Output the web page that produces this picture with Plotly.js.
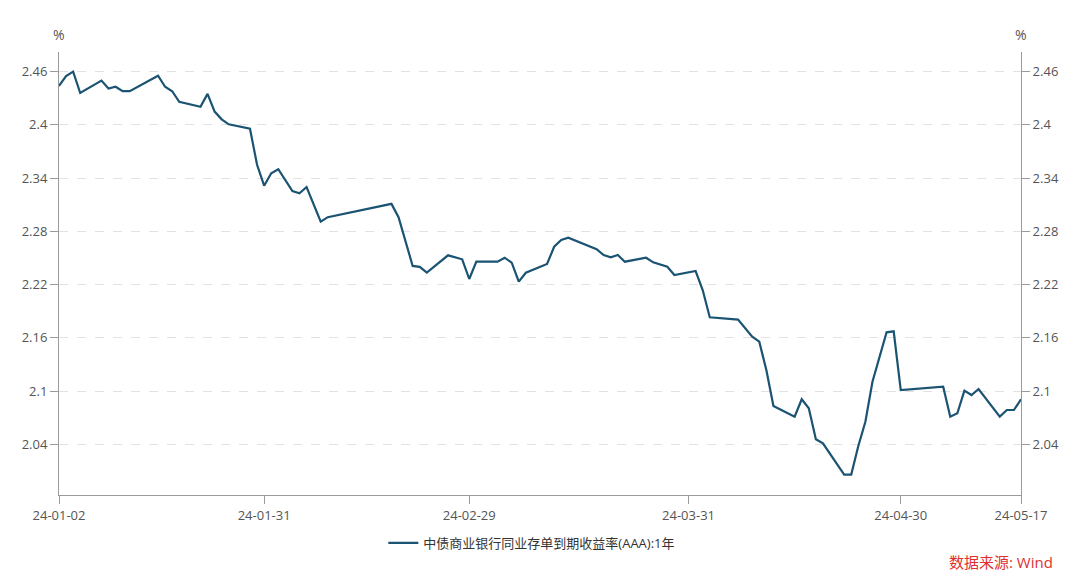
<!DOCTYPE html>
<html>
<head>
<meta charset="utf-8">
<script src="https://cdn.plot.ly/plotly-3.0.1.min.js"></script>
<style>html,body{margin:0;padding:0;background:#fff;}#chart{width:1080px;height:579px;}</style>
</head>
<body>
<div id="chart"></div>
<script>
const dates = [
"2024-01-02","2024-01-03","2024-01-04","2024-01-05","2024-01-08","2024-01-09","2024-01-10","2024-01-11","2024-01-12",
"2024-01-16","2024-01-17","2024-01-18","2024-01-19","2024-01-22","2024-01-23","2024-01-24","2024-01-25","2024-01-26",
"2024-01-29","2024-01-30","2024-01-31","2024-02-01","2024-02-02","2024-02-04","2024-02-05","2024-02-06","2024-02-08",
"2024-02-09","2024-02-18","2024-02-19","2024-02-21","2024-02-22","2024-02-23","2024-02-26","2024-02-28","2024-02-29",
"2024-03-01","2024-03-04","2024-03-05","2024-03-06","2024-03-07","2024-03-08","2024-03-11","2024-03-12","2024-03-13",
"2024-03-14","2024-03-18","2024-03-19","2024-03-20","2024-03-21","2024-03-22","2024-03-25","2024-03-26","2024-03-28",
"2024-03-29","2024-04-01","2024-04-02","2024-04-03","2024-04-07","2024-04-09","2024-04-10","2024-04-11","2024-04-12",
"2024-04-15","2024-04-16","2024-04-17","2024-04-18","2024-04-19","2024-04-22","2024-04-23","2024-04-24","2024-04-25",
"2024-04-26","2024-04-28","2024-04-29","2024-04-30","2024-05-06","2024-05-07","2024-05-08","2024-05-09","2024-05-10",
"2024-05-11","2024-05-14","2024-05-15","2024-05-16","2024-05-17"
];
const yields = [
2.4439,2.455,2.46,2.436,2.450,2.441,2.443,2.438,2.438,
2.4555,2.443,2.438,2.426,2.4205,2.435,2.415,2.4063,2.4007,
2.3957,2.355,2.3315,2.3455,2.350,2.3255,2.323,2.330,2.291,
2.296,2.311,2.296,2.241,2.240,2.2334,2.253,2.2485,2.2263,
2.2458,2.2458,2.2503,2.2447,2.2233,2.2334,2.2432,2.2627,2.2703,
2.2729,2.260,2.2533,2.2507,2.2533,2.2458,2.2503,2.2451,2.2402,
2.2308,2.2353,2.2139,2.1831,2.1805,2.1612,2.1556,2.1237,2.0831,
2.0711,2.0907,2.0805,2.0456,2.041,2.0058,2.0058,2.038,2.0654,
2.1105,2.1662,2.1673,2.1011,2.1049,2.0711,2.0749,2.1004,2.0955,
2.1023,2.0711,2.0786,2.0786,2.0907
];
const seriesName = "中债商业银行同业存单到期收益率(AAA):1年";
const xTickVals = ["2024-01-02","2024-01-31","2024-02-29","2024-03-31","2024-04-30","2024-05-17"];
const xTickText = ["24-01-02","24-01-31","24-02-29","24-03-31","24-04-30","24-05-17"];
const yTickVals = [2.04,2.1,2.16,2.22,2.28,2.34,2.4,2.46];
const yTickText = ["2.04","2.1","2.16","2.22","2.28","2.34","2.4","2.46"];
const yRange = [1.9828, 2.4822];
const unitLabel = "%";
const sourceText = "数据来源: Wind";

const FONT = "Open Sans, Noto Sans CJK SC, sans-serif";
const axisColor = "#9a9a9a";
const tickFont = {family: FONT, size: 13, color: "#555"};

const traces = [
  {x: dates, y: yields, type: "scatter", mode: "lines", name: seriesName,
   line: {color: "#1b5373", width: 2.2}, hoverinfo: "x+y"},
  {x: dates, y: yields, type: "scatter", mode: "lines", yaxis: "y2", showlegend: false,
   line: {color: "rgba(0,0,0,0)", width: 0}, hoverinfo: "skip"}
];

const layout = {
  width: 1080, height: 579,
  margin: {l: 59, r: 59, t: 52, b: 84},
  paper_bgcolor: "#fff", plot_bgcolor: "#fff",
  showlegend: true,
  legend: {orientation: "h", x: 0.4915, xanchor: "center", y: -0.108, yanchor: "middle",
           font: {family: FONT, size: 13, color: "#333"}, itemwidth: 30, tracegroupgap: 0},
  xaxis: {type: "date", range: ["2024-01-02","2024-05-17"], tickmode: "array",
          tickvals: xTickVals, ticktext: xTickText, ticks: "outside", ticklen: 8,
          tickcolor: axisColor, showline: true, linecolor: axisColor, linewidth: 1,
          showgrid: false, zeroline: false, tickfont: tickFont, fixedrange: true},
  yaxis: {range: yRange, tickmode: "array", tickvals: yTickVals, ticktext: yTickText,
          ticks: "outside", ticklen: 8, tickcolor: axisColor, showline: true,
          linecolor: axisColor, linewidth: 1, showgrid: true, gridcolor: "#e2e2e2",
          griddash: "dash", zeroline: false, tickfont: tickFont, fixedrange: true},
  yaxis2: {range: yRange, overlaying: "y", side: "right", anchor: "x", tickmode: "array",
           tickvals: yTickVals, ticktext: yTickText, ticks: "outside", ticklen: 8,
           tickcolor: axisColor, showline: true, linecolor: axisColor, linewidth: 1,
           showgrid: false, zeroline: false, tickfont: tickFont, fixedrange: true},
  annotations: [
    {text: unitLabel, xref: "paper", yref: "paper", x: 0, y: 1, yshift: 18, xanchor: "center",
     yanchor: "middle", showarrow: false, font: {family: FONT, size: 14, color: "#555"}},
    {text: unitLabel, xref: "paper", yref: "paper", x: 1, y: 1, yshift: 18, xanchor: "center",
     yanchor: "middle", showarrow: false, font: {family: FONT, size: 14, color: "#555"}},
    {text: sourceText, xref: "paper", yref: "paper", x: 1, xshift: 34, y: 0, yshift: -67,
     xanchor: "right", yanchor: "middle", showarrow: false,
     font: {family: FONT, size: 15, color: "#e03030"}}
  ]
};

Plotly.newPlot("chart", traces, layout, {displayModeBar: false, staticPlot: true});
</script>
</body>
</html>
